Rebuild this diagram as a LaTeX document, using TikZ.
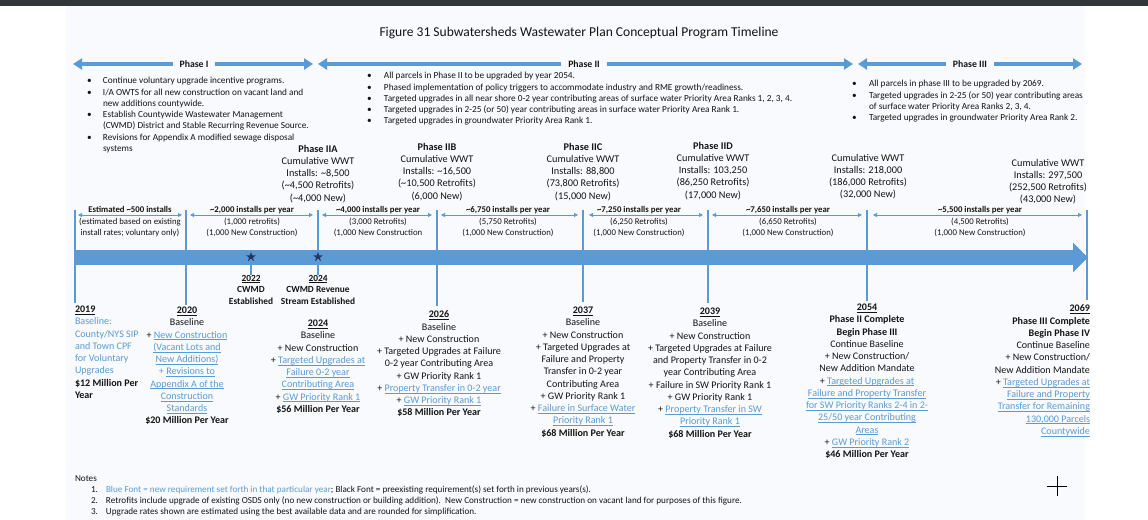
\documentclass[tikz,border=0pt]{standalone}
\usepackage{fontspec}
\setmainfont{Carlito}
\usetikzlibrary{arrows.meta,shapes.geometric}
\definecolor{lb}{RGB}{91,155,213}
\definecolor{barc}{RGB}{91,155,213}
\definecolor{navy}{RGB}{31,56,100}
\definecolor{darkc}{RGB}{50,54,57}
\definecolor{pagec}{RGB}{248,250,253}
\definecolor{txt}{RGB}{20,20,20}
\newsavebox\myulbox
\newcommand{\myul}[1]{\sbox\myulbox{#1}\leavevmode\rlap{\rule[-1.7bp]{\wd\myulbox}{0.55bp}}\usebox\myulbox}
\newcommand{\lnk}[1]{{\color{lb}\myul{#1}}}
\newcommand{\yr}[1]{\textbf{\myul{#1}}}
\newcommand{\tl}{\textasciitilde}
\begin{document}
\begin{tikzpicture}[x=1bp,y=-1bp,
  every node/.style={inner sep=0pt,outer sep=0pt,text=txt},
  hdr/.style={draw=barc,line width=3.6bp,-{Triangle[length=9bp,width=11bp]}},
  hdrtxt/.style={font=\fontsize{9.8}{11}\selectfont\bfseries,inner xsep=7bp},
  bul/.style={font=\fontsize{9.3}{11.3}\selectfont,align=left},
  cum/.style={font=\fontsize{10.3}{12.3}\selectfont,align=center,anchor=north},
  inst/.style={font=\fontsize{8.8}{11.4}\selectfont,align=center,anchor=north},
  iarr/.style={draw=lb,line width=0.8bp,{Triangle[length=4bp,width=4bp]}-{Triangle[length=4bp,width=4bp]}},
  tick/.style={draw=barc,line width=2bp},
  col/.style={font=\fontsize{10.1}{12.3}\selectfont,align=center,anchor=north},
  yrlab/.style={font=\fontsize{9.4}{11.5}\selectfont\bfseries,align=center,anchor=north},
  starn/.style={star,star points=5,star point ratio=2.4,fill=navy,minimum size=10bp}
]
\useasboundingbox (0,0) rectangle (1148,520);
\fill[white] (0,0) rectangle (1148,520);
\fill[pagec] (66,6) rectangle (1085,520);
\fill[darkc] (0,0) rectangle (1148,6);

% title
\node[font=\fontsize{13.6}{15}\selectfont] (title) at (579,33) {Figure 31 Subwatersheds Wastewater Plan Conceptual Program Timeline};

% phase header arrows
\node[hdrtxt] (ph1) at (194,64) {Phase I};
\coordinate (p1L) at (73,64); \coordinate (p1R) at (313,64);
\draw[hdr] (ph1.west) -- (p1L);
\draw[hdr] (ph1.east) -- (p1R);
\node[hdrtxt] (ph2) at (584,64) {Phase II};
\coordinate (p2L) at (318,64); \coordinate (p2R) at (853,64);
\draw[hdr] (ph2.west) -- (p2L);
\draw[hdr] (ph2.east) -- (p2R);
\node[hdrtxt] (ph3) at (970,64) {Phase III};
\coordinate (p3L) at (858,64); \coordinate (p3R) at (1082,64);
\draw[hdr] (ph3.west) -- (p3L);
\draw[hdr] (ph3.east) -- (p3R);

% bullets
\node[bul,anchor=north west] (b1) at (87,76) {\begin{tabular}{@{}p{16bp}@{}l@{}}
\textbullet & Continue voluntary upgrade incentive programs.\\
\textbullet & I/A OWTS for all new construction on vacant land and\\
 & new additions countywide.\\
\textbullet & Establish Countywide Wastewater Management\\
 & (CWMD) District and Stable Recurring Revenue Source.\\
\textbullet & Revisions for Appendix A modified sewage disposal\\
 & systems
\end{tabular}};
\node[bul,anchor=north west] (b2) at (367,71) {\begin{tabular}{@{}p{17bp}@{}l@{}}
\textbullet & All parcels in Phase II to be upgraded by year 2054.\\
\textbullet & Phased implementation of policy triggers to accommodate industry and RME growth/readiness.\\
\textbullet & Targeted upgrades in all near shore 0-2 year contributing areas of surface water Priority Area Ranks 1, 2, 3, 4.\\
\textbullet & Targeted upgrades in 2-25 (or 50) year contributing areas in surface water Priority Area Rank 1.\\
\textbullet & Targeted upgrades in groundwater Priority Area Rank 1.
\end{tabular}};
\node[bul,anchor=north west] (b3) at (852,79) {\begin{tabular}{@{}p{17bp}@{}l@{}}
\textbullet & All parcels in phase III to be upgraded by 2069.\\
\textbullet & Targeted upgrades in 2-25 (or 50) year contributing areas\\
 & of surface water Priority Area Ranks 2, 3, 4.\\
\textbullet & Targeted upgrades in groundwater Priority Area Rank 2.
\end{tabular}};

% cumulative boxes
\node[cum] (c2a) at (318,145) {\textbf{Phase IIA}\\Cumulative WWT\\Installs: \tl8,500\\(\tl4,500 Retrofits)\\(\tl4,000 New)};
\node[cum] (c2b) at (437,143) {\textbf{Phase IIB}\\Cumulative WWT\\Installs: \tl16,500\\(\tl10,500 Retrofits)\\(6,000 New)};
\node[cum] (c2c) at (583,143) {\textbf{Phase IIC}\\Cumulative WWT\\Installs: 88,800\\(73,800 Retrofits)\\(15,000 New)};
\node[cum] (c2d) at (713,142) {\textbf{Phase IID}\\Cumulative WWT\\Installs: 103,250\\(86,250 Retrofits)\\(17,000 New)};
\node[cum] (c54) at (868,154) {Cumulative WWT\\Installs: 218,000\\(186,000 Retrofits)\\(32,000 New)};
\node[cum] (c69) at (1048,159) {Cumulative WWT\\Installs: 297,500\\(252,500 Retrofits)\\(43,000 New)};

% ticks
\foreach \n/\x/\yb in {k19/75/303,k20/186/305,k24/318/264,k26/437/306,k37/583/302,k39/708/303,k54/867/301,k69/1087/300}{
  \coordinate (\n a) at (\x,210);
  \coordinate (\n b) at (\x,\yb);
  \draw[tick] (\n a) -- (\n b);
}

% installs per year arrows
\foreach \n/\l/\r in {s1/78/182,s2/190/313,s3/322/432,s4/441/578,s5/589/703,s6/712/862,s7/873/1082}{
  \coordinate (\n L) at (\l,215);
  \coordinate (\n R) at (\r,215);
  \draw[iarr] (\n L) -- (\n R);
}
\node[inst] (i1) at (130,206.5) {\textbf{Estimated \tl500 installs}\\(estimated based on existing\\install rates; voluntary only)};
\node[inst] (i2) at (252,206.5) {\textbf{\tl2,000 installs per year}\\(1,000 retrofits)\\(1,000 New Construction)};
\node[inst] (i3) at (378,206.5) {\textbf{\tl4,000 installs per year}\\(3,000 Retrofits)\\(1,000 New Construction};
\node[inst] (i4) at (508,206.5) {\textbf{\tl6,750 installs per year}\\(5,750 Retrofits)\\(1,000 New Construction)};
\node[inst] (i5) at (639,206.5) {\textbf{\tl7,250 installs per year}\\(6,250 Retrofits)\\(1,000 New Construction)};
\node[inst] (i6) at (788,206.5) {\textbf{\tl7,650 installs per year}\\(6,650 Retrofits)\\(1,000 New Construction)};
\node[inst] (i7) at (980,206.5) {\textbf{\tl5,500 installs per year}\\(4,500 Retrofits)\\(1,000 New Construction)};

% main timeline bar
\coordinate (barS) at (75,257.5);
\coordinate (barE) at (1088,257.5);
\draw[draw=barc,line width=15bp,-{Triangle[length=15bp,width=29bp]}] (barS) -- (barE);

% stars
\node[starn] (st22) at (251,257) {};
\node[starn] (st24) at (318,257) {};
\node[yrlab] (y22) at (251,275) {\myul{2022}\\CWMD\\Established};
\node[yrlab] (y24) at (318,275) {\myul{2024}\\CWMD Revenue\\Stream Established};
\draw[tick] (st22) -- (y22.north);
\draw[tick] (st24) -- (y24.north);

% bottom columns
\node[col,anchor=north west,align=left] (d19) at (75,306) {\yr{2019}\\{\color{lb}Baseline:}\\{\color{lb}County/NYS SIP}\\{\color{lb}and Town CPF}\\{\color{lb}for Voluntary}\\{\color{lb}Upgrades}\\\textbf{\$12 Million Per}\\\textbf{Year}};
\node[col] (d20) at (187,307) {\yr{2020}\\Baseline\\+ \lnk{New Construction}\\\lnk{(Vacant Lots and}\\\lnk{New Additions)}\\{\color{lb}+} \lnk{Revisions to}\\\lnk{Appendix A of the}\\\lnk{Construction}\\\lnk{Standards}\\\textbf{\$20 Million Per Year}};
\node[col] (d24) at (318,320) {\yr{2024}\\Baseline\\+ New Construction\\+ \lnk{Targeted Upgrades at}\\\lnk{Failure 0-2 year}\\\lnk{Contributing Area}\\+ \lnk{GW Priority Rank 1}\\\textbf{\$56 Million Per Year}};
\node[col] (d26) at (439,311) {\yr{2026}\\Baseline\\+ New Construction\\+ Targeted Upgrades at Failure\\0-2 year Contributing Area\\+ GW Priority Rank 1\\+ \lnk{Property Transfer in 0-2 year}\\+ \lnk{GW Priority Rank 1}\\\textbf{\$58 Million Per Year}};
\node[col] (d37) at (583,307) {\yr{2037}\\Baseline\\+ New Construction\\+ Targeted Upgrades at\\Failure and Property\\Transfer in 0-2 year\\Contributing Area\\+ GW Priority Rank 1\\+ \lnk{Failure in Surface Water}\\\lnk{Priority Rank 1}\\\textbf{\$68 Million Per Year}};
\node[col] (d39) at (710,308) {\yr{2039}\\Baseline\\+ New Construction\\+ Targeted Upgrades at Failure\\and Property Transfer in 0-2\\year Contributing Area\\+ Failure in SW Priority Rank 1\\+ GW Priority Rank 1\\+ \lnk{Property Transfer in SW}\\\lnk{Priority Rank 1}\\\textbf{\$68 Million Per Year}};
\node[col] (d54) at (867,304) {\yr{2054}\\\textbf{Phase II Complete}\\\textbf{Begin Phase III}\\Continue Baseline\\+ New Construction/\\New Addition Mandate\\+ \lnk{Targeted Upgrades at}\\\lnk{Failure and Property Transfer}\\\lnk{for SW Priority Ranks 2-4 in 2-}\\\lnk{25/50 year Contributing}\\\lnk{Areas}\\+ \lnk{GW Priority Rank 2}\\\textbf{\$46 Million Per Year}};
\node[col,anchor=north east,align=right] (d69) at (1090,305) {\yr{2069}\\\textbf{Phase III Complete}\\\textbf{Begin Phase IV}\\Continue Baseline\\+ New Construction/\\New Addition Mandate\\+ \lnk{Targeted Upgrades at}\\\lnk{Failure and Property}\\\lnk{Transfer for Remaining}\\\lnk{130,000 Parcels}\\\lnk{Countywide}};

% notes
\node[font=\fontsize{9.2}{11}\selectfont,anchor=north west,align=left] (notes) at (75,476) {Notes};
\node[font=\fontsize{9.2}{11}\selectfont,anchor=north west,align=left] (nl) at (91,485) {\begin{tabular}{@{}p{15bp}@{}l@{}}
1. & {\color{lb}Blue Font = new requirement set forth in that particular year}; Black Font = preexisting requirement(s) set forth in previous years(s).\\
2. & Retrofits include upgrade of existing OSDS only (no new construction or building addition).\ \ New Construction = new construction on vacant land for purposes of this figure.\\
3. & Upgrade rates shown are estimated using the best available data and are rounded for simplification.
\end{tabular}};

% cursor cross
\coordinate (cxL) at (1047,486); \coordinate (cxR) at (1067,486);
\coordinate (cyT) at (1057,476); \coordinate (cyB) at (1057,496);
\draw[line width=0.8bp,black] (cxL) -- (cxR);
\draw[line width=0.8bp,black] (cyT) -- (cyB);
\end{tikzpicture}
\end{document}
